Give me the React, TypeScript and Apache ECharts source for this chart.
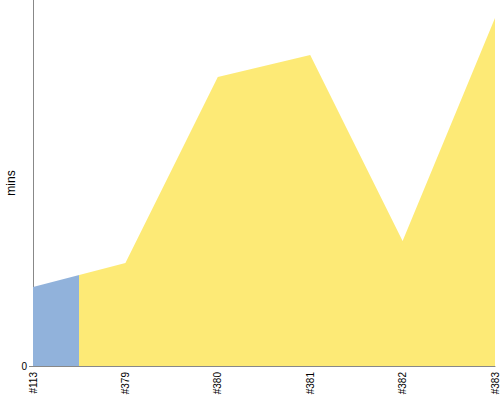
import React, { useEffect, useRef } from "react";
import * as echarts from "echarts";

const categories = ["#113", "#379", "#380", "#381", "#382", "#383"];
const durations = [4.09, 5.34, 14.97, 16.11, 6.48, 18.03];

export default function App() {
  const ref = useRef<HTMLDivElement>(null);
  useEffect(() => {
    const chart = echarts.init(ref.current!, null, { renderer: "svg" });
    chart.setOption({
      animation: false,
      grid: { left: 33, right: 5, top: -20, bottom: 34, outerBoundsMode: "none", containLabel: false },
      visualMap: {
        type: "piecewise",
        show: false,
        dimension: 0,
        seriesIndex: 0,
        pieces: [
          { gte: 0, lt: 0.5, color: "#91b2db" },
          { gte: 0.5, lte: categories.length - 1, color: "#fdea76" },
        ],
      },
      xAxis: {
        type: "value",
        min: 0,
        max: categories.length - 1,
        interval: 1,
        splitLine: { show: false },
        axisLine: { lineStyle: { color: "#888", width: 1 } },
        axisTick: { show: false },
        axisLabel: {
          rotate: 90,
          fontSize: 10,
          color: "#000",
          fontFamily: "Liberation Sans",
          margin: 6,
          showMinLabel: true,
          showMaxLabel: true,
          formatter: (v: number) => categories[v] ?? "",
        },
      },
      yAxis: {
        type: "value",
        min: 0,
        max: 20,
        interval: 20,
        name: "mins",
        nameLocation: "middle",
        nameGap: 16,
        nameMoveOverlap: false,
        nameTextStyle: { fontSize: 12, color: "#000", fontFamily: "Liberation Sans", padding: [0, 20, 0, 0] },
        splitLine: { show: false },
        axisLine: { show: true, lineStyle: { color: "#888", width: 1 } },
        axisTick: { show: true, length: 4, lineStyle: { color: "#888" } },
        axisLabel: {
          fontSize: 10,
          color: "#000",
          fontFamily: "Liberation Sans",
          margin: 6,
          formatter: (v: number) => (v === 0 ? "0" : ""),
        },
      },
      series: [
        {
          type: "line",
          data: durations.map((v, i) => [i, v]),
          symbol: "none",
          lineStyle: { width: 0 },
          areaStyle: { opacity: 1 },
        },
      ],
    });
    return () => chart.dispose();
  }, []);
  return <div ref={ref} style={{ width: 500, height: 400, position: "absolute", left: 0, top: 0 }} />;
}
